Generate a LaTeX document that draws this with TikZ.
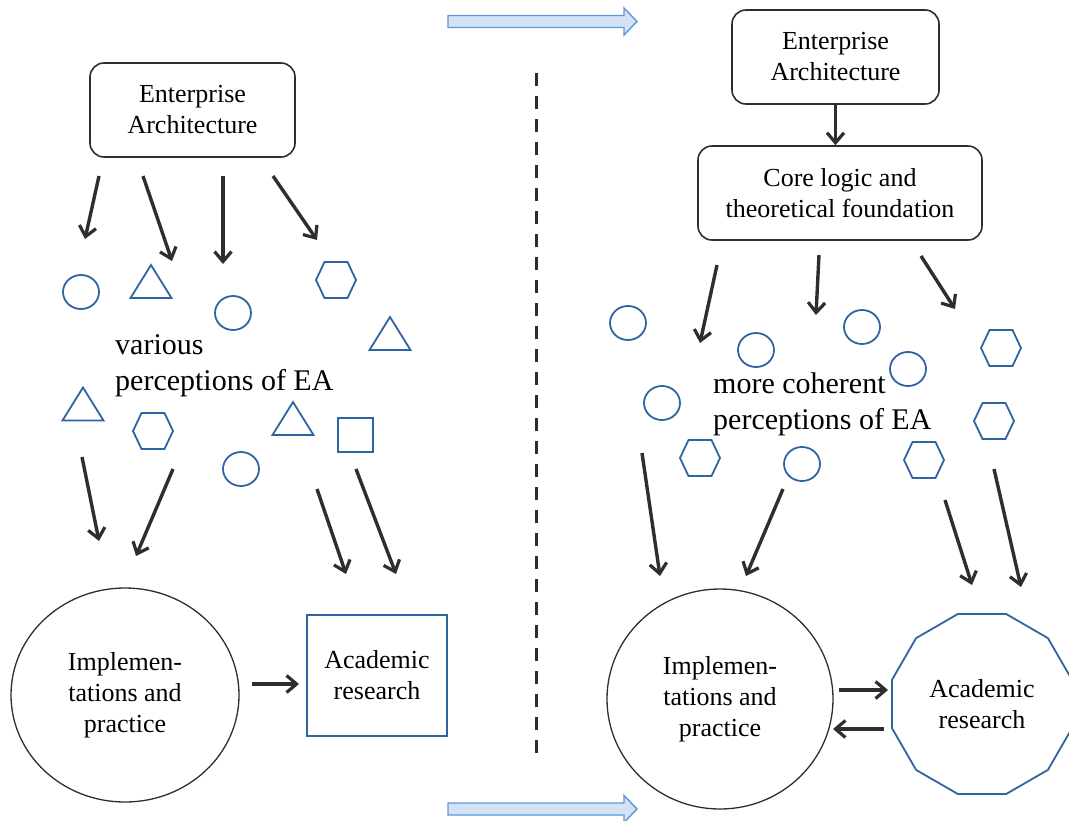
\documentclass[tikz,border=0pt]{standalone}
\usepackage{fontspec}
\setmainfont{Liberation Serif}
\usetikzlibrary{arrows.meta,shapes.geometric,calc}

\definecolor{ink}{HTML}{2E2E2E}
\definecolor{shapeblue}{HTML}{2F64A3}
\definecolor{flowfill}{HTML}{D3E2F5}
\definecolor{flowedge}{HTML}{5E97D6}

\tikzset{
  lbl/.style={font=\fontsize{26}{31}\selectfont, align=center, inner sep=0pt},
  bigtxt/.style={font=\fontsize{30}{36}\selectfont, align=left, inner sep=0pt, anchor=west},
  eabox/.style={draw=ink, line width=1.6pt, rounded corners=14pt, lbl},
  outline/.style={draw=shapeblue, line width=1.8pt},
  arr/.style={draw=ink, line width=3.4pt,
    -{Straight Barb[length=10pt,width=17pt,line width=3.2pt]}},
  flow/.style={draw=flowedge, fill=flowfill, line width=1.4pt, line join=miter},
  pics/circ/.style={code={\draw[outline] (0,0) ellipse [x radius=18pt, y radius=17pt];}},
  pics/tri/.style={code={\draw[outline, line join=miter] (0,-16.5) -- (20.5,16.5) -- (-20.5,16.5) -- cycle;}},
  pics/hexa/.style={code={\draw[outline] (-20,0) -- (-11.5,-18) -- (11.5,-18) -- (20,0) -- (11.5,18) -- (-11.5,18) -- cycle;}},
  pics/sq/.style={code={\draw[outline] (-17.5,-17) rectangle (17.5,17);}},
}

\begin{document}
\begin{tikzpicture}[x=1pt, y=-1pt]
\useasboundingbox (0,0) rectangle (1069,820);

% ---------- flow arrows, top and bottom ----------
\draw[flow] (448,15.5) -- (624,15.5) -- (624,8) -- (637,21.5) -- (624,35) -- (624,27.5) -- (448,27.5) -- cycle;
\draw[flow] (448,803) -- (624,803) -- (624,795.5) -- (637,809) -- (624,822.5) -- (624,815) -- (448,815) -- cycle;

% ---------- divider ----------
\draw[ink, line width=3pt, dash pattern=on 12.5pt off 10.5pt] (536,73) -- (536,762);

% ================= left half =================
\node[eabox, minimum width=205pt, minimum height=94pt] (eaL) at (192.5,110) {Enterprise\\Architecture};

\node[bigtxt] (percL) at (115,366) {various\\perceptions of EA};

\pic at (81,292) {circ};
\pic at (151,281.5) {tri};
\pic at (233,313) {circ};
\pic at (336,280) {hexa};
\pic at (390,333.5) {tri};
\pic at (83,404) {tri};
\pic at (153,431) {hexa};
\pic at (293,418.5) {tri};
\pic at (355.5,435) {sq};
\pic at (241,469) {circ};

\node[draw=ink, line width=1.3pt, ellipse, minimum width=228pt, minimum height=214pt, lbl] (ipL) at (125,695) {Implemen-\\tations and\\practice};
\node[outline, minimum width=140pt, minimum height=121pt, lbl] (arL) at (377,675.5) {Academic\\research};

% arrow ends, left half
\coordinate (la1) at (99,176);  \coordinate (lb1) at (85,239);
\coordinate (la2) at (143,176); \coordinate (lb2) at (172,261);
\coordinate (la3) at (223,176); \coordinate (lb3) at (223,264);
\coordinate (la4) at (273,176); \coordinate (lb4) at (317,240);
\coordinate (lc1) at (82,457);  \coordinate (ld1) at (99,541);
\coordinate (lc2) at (173,469); \coordinate (ld2) at (136,556);
\coordinate (lc3) at (317,489); \coordinate (ld3) at (346,574);
\coordinate (lc4) at (356,469); \coordinate (ld4) at (396,574);
\coordinate (lh1) at (252,684); \coordinate (lh2) at (299,684);

\foreach \i in {1,...,4} {
  \draw[arr] (la\i) -- (lb\i);
  \draw[arr] (lc\i) -- (ld\i);
}
\draw[arr] (lh1) -- (lh2);

% ================= right half =================
\node[eabox, minimum width=207pt, minimum height=94pt] (eaR) at (835.5,57) {Enterprise\\Architecture};
\node[eabox, minimum width=284pt, minimum height=94pt] (core) at (840,193) {Core logic and\\theoretical foundation};
\draw[arr] (eaR.south) -- (eaR.south |- core.north);

\node[bigtxt] (percR) at (713,404) {more coherent\\perceptions of EA};

\pic at (628,323) {circ};
\pic at (756,350) {circ};
\pic at (862,327) {circ};
\pic at (908,369) {circ};
\pic at (1001,348) {hexa};
\pic at (662,403) {circ};
\pic at (994,421) {hexa};
\pic at (700,458) {hexa};
\pic at (802,464) {circ};
\pic at (924,460) {hexa};

\node[draw=ink, line width=1.3pt, ellipse, minimum width=226pt, minimum height=220pt, lbl] (ipR) at (720,699) {Implemen-\\tations and\\practice};
\node[circle, minimum size=178pt, lbl] (arR) at (982,704) {Academic\\research};
\draw[outline, line join=miter] ($(arR.center)+(15:93.2)$)
  \foreach \k in {1,...,11} { -- ($(arR.center)+({15+30*\k}:93.2)$) } -- cycle;

% arrow ends, right half
\coordinate (ra1) at (717,265); \coordinate (rb1) at (700,343);
\coordinate (ra2) at (819,255); \coordinate (rb2) at (816,315);
\coordinate (ra3) at (921,256); \coordinate (rb3) at (955,309);
\coordinate (rc1) at (642,453); \coordinate (rd1) at (660,576);
\coordinate (rc2) at (783,489); \coordinate (rd2) at (746,576);
\coordinate (rc3) at (945,500); \coordinate (rd3) at (972,585);
\coordinate (rc4) at (994,469); \coordinate (rd4) at (1021,587);
\coordinate (rh1) at (839,690); \coordinate (rh2) at (888,690);
\coordinate (rh3) at (884,729); \coordinate (rh4) at (833,729);

\foreach \i in {1,2,3} { \draw[arr] (ra\i) -- (rb\i); }
\foreach \i in {1,...,4} { \draw[arr] (rc\i) -- (rd\i); }
\draw[arr] (rh1) -- (rh2);
\draw[arr] (rh3) -- (rh4);

\end{tikzpicture}
\end{document}
